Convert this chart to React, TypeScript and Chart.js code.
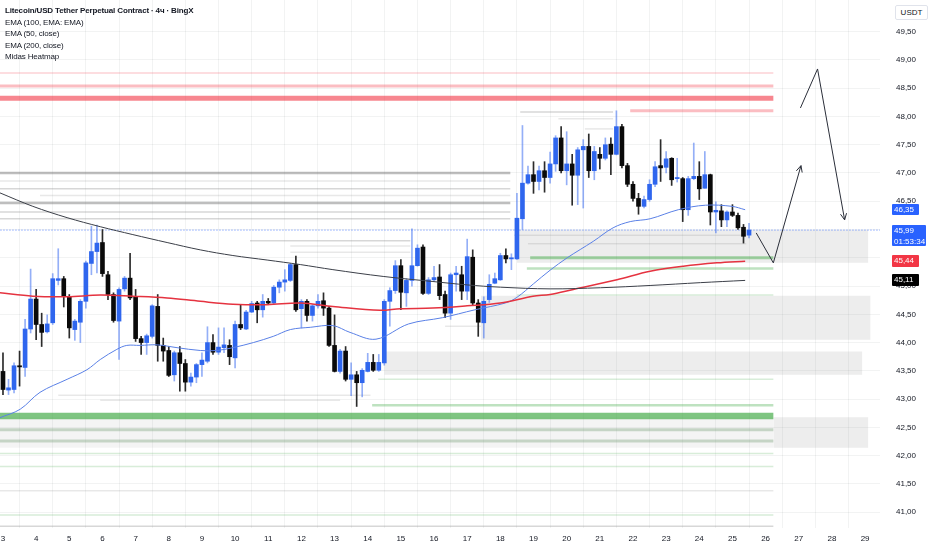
import React, { useEffect, useRef, useState } from "react";
import { Chart, registerables } from "chart.js";

Chart.register(...registerables);

// ---------- data ----------
const FIRST_DAY = 3;
const BARS_PER_DAY = 6;
const DAY_TICKS = [3, 4, 5, 6, 7, 8, 9, 10, 11, 12, 13, 14, 15, 16, 17, 18, 19, 20, 21, 22, 23, 24, 25, 26, 27, 28, 29];
const PRICE_TICKS = [41, 41.5, 42, 42.5, 43, 43.5, 44, 44.5, 45, 45.5, 46, 46.5, 47, 47.5, 48, 48.5, 49, 49.5];

const OPEN = [43.49, 43.16, 43.17, 43.59, 43.56, 44.24, 44.77, 44.32, 44.19, 44.35, 45.10, 45.13, 44.81, 44.23, 44.36, 44.73, 45.40, 45.61, 45.77, 45.20, 44.85, 44.38, 44.95, 45.14, 44.81, 44.07, 44.00, 44.11, 44.64, 43.95, 43.86, 43.43, 43.82, 43.63, 43.30, 43.39, 43.61, 43.67, 44.00, 43.83, 43.91, 43.95, 43.73, 44.32, 44.24, 44.54, 44.70, 44.58, 44.73, 44.70, 44.98, 45.07, 45.10, 45.38, 44.60, 44.73, 44.48, 44.65, 44.74, 44.61, 43.95, 43.49, 43.85, 43.35, 43.43, 43.29, 43.49, 43.65, 43.51, 43.64, 44.73, 44.92, 45.36, 44.88, 45.10, 45.36, 45.69, 44.87, 45.11, 45.16, 44.85, 44.52, 45.20, 45.20, 44.91, 45.51, 44.70, 44.35, 44.76, 45.05, 45.11, 45.54, 45.48, 45.48, 46.19, 46.82, 46.97, 46.85, 47.04, 46.92, 47.16, 47.62, 47.04, 47.16, 46.96, 47.41, 47.47, 47.04, 47.33, 47.26, 47.51, 47.33, 47.82, 47.13, 46.80, 46.55, 46.41, 46.53, 46.80, 47.13, 47.10, 47.26, 46.90, 46.90, 46.35, 46.90, 46.94, 46.73, 46.97, 46.31, 46.33, 46.17, 46.31, 46.25, 46.04, 45.90];
const HIGH = [43.82, 43.35, 43.64, 43.85, 44.41, 45.30, 44.94, 44.52, 44.49, 45.22, 45.66, 45.17, 44.85, 44.41, 44.76, 45.44, 46.06, 46.08, 46.00, 45.26, 44.88, 44.97, 45.17, 45.58, 44.94, 44.11, 44.15, 44.67, 44.85, 44.08, 43.93, 43.85, 43.93, 43.70, 43.46, 43.63, 43.82, 44.28, 44.14, 44.26, 44.26, 44.05, 44.38, 44.67, 44.57, 44.73, 44.73, 44.85, 44.78, 45.01, 45.11, 45.29, 45.40, 45.53, 44.76, 44.76, 44.67, 44.85, 44.88, 44.64, 44.49, 43.88, 43.93, 43.64, 43.49, 43.54, 43.81, 43.79, 43.79, 44.76, 44.97, 45.45, 45.47, 45.13, 46.01, 45.73, 45.73, 45.15, 45.35, 45.38, 44.91, 45.23, 45.35, 45.35, 45.83, 45.64, 44.76, 44.81, 45.20, 45.23, 45.58, 45.66, 45.57, 46.64, 47.84, 47.12, 47.20, 47.12, 47.20, 47.37, 47.66, 47.82, 47.73, 47.33, 47.45, 47.59, 47.69, 47.47, 47.45, 47.62, 47.62, 48.10, 47.86, 47.17, 46.85, 46.64, 46.59, 46.88, 47.20, 47.59, 47.38, 47.27, 47.26, 46.92, 46.94, 47.53, 47.20, 47.38, 46.98, 46.49, 46.44, 46.33, 46.44, 46.29, 46.09, 46.11];
const LOW = [43.08, 43.08, 43.11, 43.23, 43.40, 44.17, 44.05, 43.93, 44.17, 44.32, 45.02, 44.63, 44.08, 44.04, 44.00, 44.61, 45.20, 45.23, 45.17, 44.76, 44.36, 43.70, 44.91, 44.76, 44.02, 43.79, 43.79, 44.08, 43.67, 43.67, 43.40, 43.32, 43.14, 43.14, 43.23, 43.29, 43.40, 43.64, 43.79, 43.79, 43.82, 43.61, 43.55, 44.23, 44.23, 44.53, 44.35, 44.45, 44.67, 44.67, 44.88, 44.91, 45.08, 44.55, 44.26, 44.38, 44.38, 44.61, 44.48, 43.93, 43.48, 43.46, 43.32, 43.06, 42.87, 43.04, 43.48, 43.49, 43.49, 43.60, 44.29, 44.87, 44.58, 44.64, 45.00, 45.35, 44.85, 44.85, 45.08, 44.76, 44.44, 44.41, 44.91, 44.76, 44.76, 44.67, 44.11, 44.08, 44.71, 45.04, 45.10, 45.41, 45.29, 45.47, 46.00, 46.80, 46.64, 46.70, 46.66, 46.82, 47.03, 47.00, 46.79, 46.43, 46.44, 46.38, 46.92, 46.88, 47.07, 47.23, 46.97, 47.32, 47.09, 46.76, 46.50, 46.27, 46.38, 46.50, 46.76, 46.85, 47.00, 46.78, 46.84, 46.14, 46.25, 46.88, 46.53, 46.73, 46.08, 45.94, 46.05, 46.05, 46.23, 46.00, 45.76, 45.85];
const CLOSE = [43.17, 43.20, 43.59, 43.57, 44.24, 44.77, 44.32, 44.18, 44.33, 45.13, 45.13, 44.82, 44.26, 44.38, 44.73, 45.41, 45.61, 45.76, 45.22, 44.85, 44.39, 44.94, 45.14, 44.79, 44.07, 44.00, 44.12, 44.65, 43.95, 43.85, 43.42, 43.82, 43.63, 43.30, 43.39, 43.61, 43.69, 44.00, 43.83, 43.92, 43.96, 43.75, 44.32, 44.26, 44.54, 44.69, 44.58, 44.73, 44.70, 44.98, 45.07, 45.11, 45.38, 44.58, 44.73, 44.48, 44.65, 44.73, 44.61, 43.95, 43.49, 43.85, 43.35, 43.43, 43.29, 43.51, 43.65, 43.51, 43.65, 44.73, 44.92, 45.36, 44.89, 45.10, 45.36, 45.67, 44.87, 45.11, 45.15, 44.83, 44.52, 45.20, 45.23, 44.91, 45.52, 44.70, 44.36, 44.73, 45.03, 45.13, 45.54, 45.48, 45.50, 46.20, 46.82, 46.97, 46.85, 47.04, 46.92, 47.16, 47.62, 47.04, 47.16, 46.96, 47.41, 47.47, 47.04, 47.38, 47.26, 47.50, 47.33, 47.82, 47.13, 46.80, 46.55, 46.41, 46.53, 46.80, 47.11, 47.09, 47.25, 46.88, 46.92, 46.35, 46.90, 46.94, 46.72, 46.97, 46.31, 46.34, 46.17, 46.31, 46.25, 46.03, 45.88, 45.99];

// EMA readings (x in bar units from the first bar, y in USDT)
const EMA50_X = [-0.6, 3.1, 6.7, 11.6, 15.2, 17.6, 20.6, 22.4, 24.8, 27.9, 31.5, 35.7, 38.7, 41.6, 45.3, 48.9, 52.0, 55.6, 59.7, 62.8, 67.5, 73.4, 79.5, 85.4, 90.9, 93.0, 96.0, 99.0, 102.1, 106.8, 110.4, 113.5, 117.1, 122.2, 127.1, 131.9, 134.3];
const EMA50_Y = [42.67, 42.82, 43.12, 43.35, 43.52, 43.70, 43.88, 43.95, 43.95, 43.96, 43.91, 43.86, 43.86, 43.91, 44.00, 44.11, 44.23, 44.27, 44.30, 44.18, 44.06, 44.33, 44.44, 44.58, 44.70, 44.80, 45.04, 45.28, 45.50, 45.79, 46.03, 46.14, 46.19, 46.35, 46.43, 46.41, 46.35];
const EMA100_X = [-0.6, 5.4, 11.6, 17.6, 23.5, 29.7, 35.7, 41.6, 47.8, 53.8, 59.7, 68.2, 71.9, 77.8, 84.0, 90.0, 95.9, 99.0, 103.2, 111.1, 117.1, 123.1, 129.2, 134.3];
const EMA100_Y = [44.88, 44.82, 44.81, 44.84, 44.82, 44.79, 44.73, 44.68, 44.67, 44.70, 44.64, 44.57, 44.60, 44.61, 44.65, 44.70, 44.82, 44.85, 44.94, 45.11, 45.26, 45.35, 45.41, 45.44];
const EMA200_X = [-0.6, 5.4, 11.6, 17.6, 23.5, 29.7, 35.7, 41.6, 47.8, 53.8, 59.7, 68.8, 77.8, 84.0, 90.0, 99.0, 108.1, 117.1, 126.2, 134.3];
const EMA200_Y = [46.65, 46.41, 46.21, 46.05, 45.91, 45.77, 45.64, 45.54, 45.46, 45.38, 45.29, 45.17, 45.08, 45.02, 44.98, 44.95, 44.97, 45.01, 45.06, 45.10];

// Heatmap levels
const LEVEL_PRICE = [48.77, 48.54, 48.32, 48.10, 48.08, 47.96, 47.78, 47.00, 46.86, 46.72, 46.60, 46.47, 46.31, 46.19, 45.80, 45.71, 45.60, 45.90, 45.75, 45.50, 45.31, 44.84, 43.35, 42.89, 42.70, 42.46, 42.26, 42.04, 41.81, 41.38, 40.95, 40.75, 43.07, 42.98, 44.29];
const LEVEL_FROM = [-0.6, -0.6, -0.6, 113.5, 93.6, 100.5, 105.3, -0.6, -0.6, -0.6, 6.7, -0.6, -0.6, -0.6, 44.7, 52, 52, 92.5, 95, 95.4, 94.8, 93, 67.9, 66.8, -0.6, -0.6, -0.6, -0.6, -0.6, -0.6, -0.6, -0.6, 10, 17.6, 80];
const LEVEL_TO = [139.4, 139.4, 139.4, 139.4, 110.4, 110.4, 110.4, 91.8, 91.8, 91.8, 91.8, 91.8, 91.8, 91.8, 73.7, 73.7, 73.7, 134.5, 134.5, 139.4, 139.4, 139.4, 139.4, 139.4, 139.4, 139.4, 139.4, 139.4, 139.4, 139.4, 139.4, 139.4, 66.5, 61, 86.5];
const LEVEL_SIDE = ["ask", "ask", "ask", "ask", "none", "none", "none", "none", "none", "none", "none", "none", "none", "none", "none", "none", "none", "none", "none", "bid", "bid", "bid", "bid", "bid", "bid", "mixed", "mixed", "bid", "bid", "none", "bid", "none", "none", "none", "none"];
const LEVEL_WEIGHT = [1, 2, 4, 2, 2, 1, 1, 3, 1, 2, 1, 3, 2, 2, 2, 1, 1, 1, 1, 3, 2, 1, 1, 2, 5, 3, 3, 1, 1, 1, 1, 2, 1, 1, 1];

// Heatmap zones
const ZONE_LOW = [45.41, 44.05, 43.43, 42.14, 42.14];
const ZONE_HIGH = [45.99, 44.83, 43.84, 42.68, 42.68];
const ZONE_FROM = [93.0, 86.5, 69.0, 139.4, -0.6];
const ZONE_TO = [156.6, 157.0, 155.5, 156.6, 139.4];
const ZONE_WEIGHT = [2, 2, 2, 2, 1];

// Drawn projection arrows
const ARROW_UP_X = [136.3, 139.4, 144.4];
const ARROW_UP_Y = [45.94, 45.41, 47.13];
const ARROW_DOWN_X = [144.3, 147.4, 152.3];
const ARROW_DOWN_Y = [48.15, 48.84, 46.17];

const LAST_PRICE = 45.99;
const COUNTDOWN = "01:53:34";
const BADGE_VALUES = [46.35, 45.99, 45.44, 45.11];
const BADGE_TEXT = ["46,35", "45,99", "45,44", "45,11"];

const LEGEND_LINES = [
  "Litecoin/USD Tether Perpetual Contract · 4ч · BingX",
  "EMA (100, EMA: EMA)",
  "EMA (50, close)",
  "EMA (200, close)",
  "Midas Heatmap",
];

// ---------- styling helpers ----------
const X_MIN = -0.54;
const X_MAX = 158.7;
const Y_MIN = 40.72;
const Y_MAX = 50.06;
const FONT = "'Liberation Sans', Arial, sans-serif";
const TEXT = "#131722";

function levelStyle(side: string, w: number) {
  if (side === "ask") {
    const a = [0, 0.17, 0.33, 0.45, 0.6, 0.7][w];
    const bw = [0, 2, 3, 3.5, 5, 6][w];
    return { color: `rgba(242,54,69,${a})`, width: bw };
  }
  if (side === "bid") {
    const a = [0, 0.22, 0.36, 0.5, 0.6, 0.72][w];
    const bw = [0, 1.5, 2.5, 3, 4, 6.5][w];
    return { color: `rgba(76,175,80,${a})`, width: bw };
  }
  if (side === "mixed") return { color: "rgba(120,160,120,0.38)", width: 3 };
  const a = [0, 0.16, 0.28, 0.45][w];
  const bw = [0, 1.5, 1.5, 2.5][w];
  return { color: `rgba(110,110,110,${a})`, width: bw };
}

function pts(xs: number[], ys: number[]) {
  return xs.map((x, i) => ({ x, y: ys[i] }));
}

const arrowPlugin = {
  id: "arrowheads",
  afterDatasetsDraw(chart: any) {
    const ctx = chart.ctx;
    chart.data.datasets.forEach((ds: any, di: number) => {
      if (!ds.arrowHead) return;
      const el = chart.getDatasetMeta(di).data;
      if (el.length < 2) return;
      const a = el[el.length - 2];
      const b = el[el.length - 1];
      const ang = Math.atan2(b.y - a.y, b.x - a.x);
      const len = 7;
      ctx.save();
      ctx.strokeStyle = ds.borderColor;
      ctx.lineWidth = 1;
      ctx.beginPath();
      for (const s of [-0.45, 0.45]) {
        ctx.moveTo(b.x, b.y);
        ctx.lineTo(b.x - len * Math.cos(ang + s), b.y - len * Math.sin(ang + s));
      }
      ctx.stroke();
      ctx.restore();
    });
  },
};

export default function App() {
  const canvasRef = useRef<HTMLCanvasElement>(null);
  const [marks, setMarks] = useState<{ right: number; ys: number[] } | null>(null);

  useEffect(() => {
    document.body.style.margin = "0";
    document.body.style.background = "#ffffff";
    const canvas = canvasRef.current;
    if (!canvas) return;

    const idx = OPEN.map((_, i) => i);
    const up = OPEN.map((o, i) => CLOSE[i] >= o);

    const datasets: any[] = [];

    // zones
    ZONE_LOW.forEach((lo, i) => {
      datasets.push({
        type: "line",
        data: [
          { x: ZONE_FROM[i], y: ZONE_HIGH[i] },
          { x: ZONE_TO[i], y: ZONE_HIGH[i] },
        ],
        borderWidth: 0,
        borderColor: "rgba(0,0,0,0)",
        backgroundColor: ZONE_WEIGHT[i] === 2 ? "rgba(150,150,150,0.17)" : "rgba(150,150,150,0.1)",
        fill: { value: lo },
        pointRadius: 0,
        order: 20,
      });
    });

    // heatmap levels
    LEVEL_PRICE.forEach((p, i) => {
      const st = levelStyle(LEVEL_SIDE[i], LEVEL_WEIGHT[i]);
      datasets.push({
        type: "line",
        data: [
          { x: LEVEL_FROM[i], y: p },
          { x: LEVEL_TO[i], y: p },
        ],
        borderColor: st.color,
        borderWidth: st.width,
        pointRadius: 0,
        fill: false,
        order: 15,
      });
    });

    // last price dotted line
    datasets.push({
      type: "line",
      data: [
        { x: X_MIN - 1, y: LAST_PRICE },
        { x: X_MAX + 1, y: LAST_PRICE },
      ],
      borderColor: "rgba(41,98,255,0.8)",
      borderWidth: 1,
      borderDash: [1, 2],
      pointRadius: 0,
      order: 12,
    });

    // wicks
    datasets.push({
      type: "bar",
      data: idx.map((i) => ({ x: i, y: [LOW[i], HIGH[i]] })),
      backgroundColor: up.map((u) => (u ? "rgba(60,110,240,0.55)" : "#2b2b2b")),
      barThickness: 1,
      grouped: false,
      order: 6,
    });
    // bodies
    datasets.push({
      type: "bar",
      data: idx.map((i) => ({ x: i, y: [OPEN[i], CLOSE[i]] })),
      backgroundColor: up.map((u) => (u ? "#2f66ee" : "#0a0a0a")),
      barThickness: 4,
      minBarLength: 1,
      grouped: false,
      order: 5,
    });

    // EMAs
    datasets.push({
      type: "line",
      data: pts(EMA200_X, EMA200_Y),
      borderColor: "#3b3f48",
      borderWidth: 1,
      pointRadius: 0,
      tension: 0.35,
      order: 3,
    });
    datasets.push({
      type: "line",
      data: pts(EMA100_X, EMA100_Y),
      borderColor: "#e53340",
      borderWidth: 1.5,
      pointRadius: 0,
      tension: 0.35,
      order: 3,
    });
    datasets.push({
      type: "line",
      data: pts(EMA50_X, EMA50_Y),
      borderColor: "#5a80e6",
      borderWidth: 1,
      pointRadius: 0,
      tension: 0.35,
      order: 3,
    });

    // arrows
    datasets.push({
      type: "line",
      data: pts(ARROW_UP_X, ARROW_UP_Y),
      borderColor: "#2a2e39",
      borderWidth: 1,
      pointRadius: 0,
      tension: 0,
      order: 1,
      arrowHead: true,
    });
    datasets.push({
      type: "line",
      data: pts(ARROW_DOWN_X, ARROW_DOWN_Y),
      borderColor: "#2a2e39",
      borderWidth: 1,
      pointRadius: 0,
      tension: 0,
      order: 1,
      arrowHead: true,
    });

    const chart = new Chart(canvas, {
      type: "bar",
      data: { datasets },
      plugins: [arrowPlugin],
      options: {
        animation: false,
        responsive: false,
        maintainAspectRatio: false,
        layout: { padding: 0 },
        plugins: { legend: { display: false }, tooltip: { enabled: false } },
        scales: {
          x: {
            type: "linear",
            min: X_MIN,
            max: X_MAX,
            offset: false,
            afterBuildTicks: (s: any) => {
              s.ticks = DAY_TICKS.map((d) => ({ value: (d - FIRST_DAY) * BARS_PER_DAY }));
            },
            afterFit: (s: any) => {
              s.height = 22;
              s.paddingLeft = 0;
              s.paddingRight = 0;
            },
            ticks: {
              autoSkip: false,
              maxRotation: 0,
              padding: 6,
              color: TEXT,
              font: { family: FONT, size: 8 },
              callback: (v: any) => String(FIRST_DAY + Math.round(Number(v) / BARS_PER_DAY)),
            },
            grid: { color: "rgba(42,46,57,0.06)", drawTicks: false },
            border: { display: false },
          },
          y: {
            type: "linear",
            position: "right",
            min: Y_MIN,
            max: Y_MAX,
            afterBuildTicks: (s: any) => {
              s.ticks = PRICE_TICKS.map((v) => ({ value: v }));
            },
            afterFit: (s: any) => {
              s.width = 52;
              s.paddingTop = 0;
              s.paddingBottom = 0;
            },
            ticks: {
              padding: 16,
              color: TEXT,
              font: { family: FONT, size: 8 },
              callback: (v: any) => Number(v).toFixed(2).replace(".", ","),
            },
            grid: { color: "rgba(42,46,57,0.06)", drawTicks: false },
            border: { display: false },
          },
        },
      } as any,
    });

    setMarks({
      right: chart.chartArea.right,
      ys: BADGE_VALUES.map((v) => chart.scales.y.getPixelForValue(v)),
    });

    return () => chart.destroy();
  }, []);

  const badgeColors = ["#2962ff", "#2962ff", "#f23645", "#000000"];

  return (
    <div style={{ position: "relative", width: 932, height: 550, background: "#fff", overflow: "hidden", fontFamily: FONT }}>
      <canvas ref={canvasRef} width={932} height={550} style={{ display: "block" }} />
      <div style={{ position: "absolute", left: 5, top: 5, color: TEXT, fontSize: 8, letterSpacing: "-0.15px", lineHeight: "11.5px", whiteSpace: "nowrap" }}>
        {LEGEND_LINES.map((t, i) => (
          <div key={i} style={{ fontWeight: i === 0 ? 600 : 400 }}>{t}</div>
        ))}
      </div>
      <div
        style={{
          position: "absolute",
          left: 895,
          top: 5,
          width: 33,
          height: 15,
          border: "1px solid #e0e3eb",
          borderRadius: 2,
          boxSizing: "border-box",
          fontSize: 8,
          lineHeight: "13px",
          textAlign: "center",
          color: TEXT,
          background: "#fff",
        }}
      >
        USDT
      </div>
      {marks &&
        BADGE_VALUES.map((v, i) => {
          const two = i === 1;
          const h = two ? 21 : 11.5;
          const top = two ? marks.ys[i] - 5.5 : marks.ys[i] - 5.75;
          return (
            <div
              key={i}
              style={{
                position: "absolute",
                left: marks.right + 12,
                top,
                width: two ? 34 : 27,
                height: h,
                background: badgeColors[i],
                color: "#fff",
                fontSize: 8,
                lineHeight: "11px",
                paddingLeft: 2,
                boxSizing: "border-box",
                borderRadius: 1,
              }}
            >
              <div>{BADGE_TEXT[i]}</div>
              {two && <div>{COUNTDOWN}</div>}
            </div>
          );
        })}
    </div>
  );
}
